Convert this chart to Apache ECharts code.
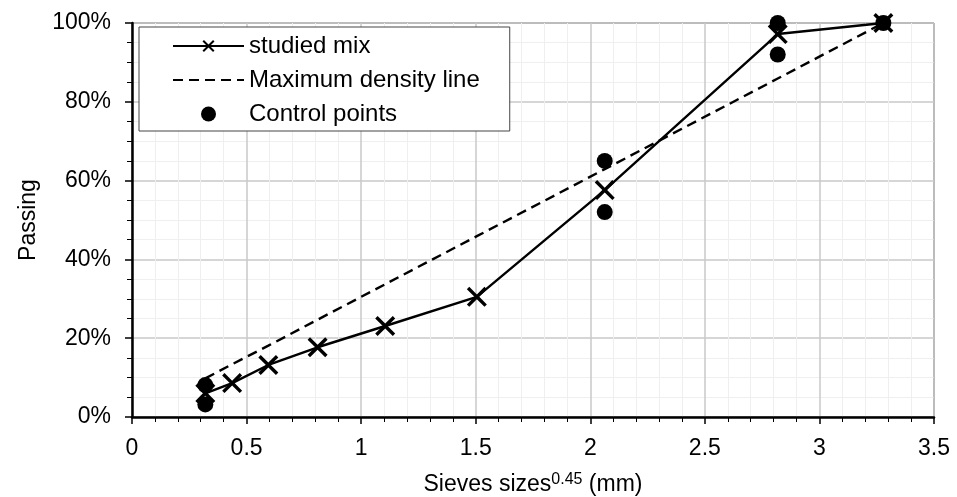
<!DOCTYPE html>
<html>
<head>
<meta charset="utf-8">
<script src="https://cdn.jsdelivr.net/npm/echarts@6/dist/echarts.min.js"></script>
<style>
  html, body { margin: 0; padding: 0; background: #fff; }
  #chart { width: 957px; height: 497px; }
</style>
</head>
<body>
<div id="chart"></div>
<script>
// sieve size^0.45 positions (mm^0.45)
const sieveX = [0.32, 0.437, 0.595, 0.81, 1.105, 1.505, 2.063, 2.818, 3.279]
// studied mix passing (%)
const mixPassing = [6, 8.6, 13.2, 17.7, 23.1, 30.5, 57.6, 97.2, 100]
// maximum density line passing (%)
const maxDensity = [9.8, 13.4, 18.1, 24.7, 33.7, 45.9, 62.9, 85.9, 100]
// control points: [x, passing %]
const controlX = [0.32, 0.32, 2.063, 2.063, 2.818, 2.818, 3.279]
const controlY = [3.2, 8.1, 52, 65, 92, 100, 100]

const xTicks = [0, 0.5, 1, 1.5, 2, 2.5, 3, 3.5]
const yTicks = [0, 20, 40, 60, 80, 100]

const font = 'Liberation Sans, Arial, sans-serif'
const crossPath = 'path://M0,1.2L1.2,0L5,3.8L8.8,0L10,1.2L6.2,5L10,8.8L8.8,10L5,6.2L1.2,10L0,8.8L3.8,5Z'

const myChart = echarts.init(document.getElementById('chart'))
myChart.setOption({
  animation: false,
  backgroundColor: '#fff',
  textStyle: { fontFamily: font, color: '#000' },
  grid: {
    left: 132,
    right: 23,
    top: 23,
    bottom: 80,
    outerBoundsMode: 'none',
    containLabel: false,
    show: true,
    borderColor: '#333',
    borderWidth: 1
  },
  legend: {
    left: 139,
    top: 27,
    orient: 'vertical',
    backgroundColor: '#fff',
    borderColor: '#444',
    borderWidth: 1,
    borderRadius: 0,
    padding: [7, 30, 5, 33],
    itemGap: 10,
    itemWidth: 71,
    itemHeight: 15,
    textStyle: { fontFamily: font, fontSize: 24, color: '#000' },
    data: [
      'studied mix',
      { name: 'Maximum density line', itemStyle: { opacity: 0 } },
      'Control points'
    ]
  },
  xAxis: {
    type: 'value',
    min: xTicks[0],
    max: xTicks[xTicks.length - 1],
    interval: 0.5,
    name: 'Sieves sizes{sup|0.45} (mm)',
    nameLocation: 'middle',
    nameGap: 55,
    nameTextStyle: {
      fontFamily: font,
      fontSize: 23,
      color: '#000',
      rich: { sup: { fontSize: 16, verticalAlign: 'top', padding: [0, 0, 10, 0], fontFamily: font } }
    },
    axisLine: { show: true, onZero: false, lineStyle: { color: '#000', width: 2.5 } },
    axisTick: { show: true, inside: false, length: 7, lineStyle: { color: '#000', width: 1.5 } },
    minorTick: { show: true, splitNumber: 5, length: 5, lineStyle: { color: '#000', width: 1 } },
    axisLabel: {
      fontSize: 23,
      color: '#000',
      margin: 20,
      formatter: v => (xTicks.includes(v) ? String(v) : '')
    },
    splitLine: { show: true, lineStyle: { color: '#c8c8c8', width: 1.5 } },
    minorSplitLine: { show: true, lineStyle: { color: '#efefef', width: 1 } }
  },
  yAxis: {
    type: 'value',
    min: yTicks[0],
    max: yTicks[yTicks.length - 1],
    interval: 20,
    name: 'Passing',
    nameLocation: 'middle',
    nameGap: 92,
    nameTextStyle: { fontFamily: font, fontSize: 23, color: '#000' },
    axisLine: { show: true, lineStyle: { color: '#000', width: 2.5 } },
    axisTick: { show: true, inside: false, length: 7, lineStyle: { color: '#000', width: 1.5 } },
    minorTick: { show: true, splitNumber: 4, length: 5, lineStyle: { color: '#000', width: 1 } },
    axisLabel: {
      fontSize: 23,
      color: '#000',
      margin: 21,
      formatter: '{value}%'
    },
    splitLine: { show: true, lineStyle: { color: '#c8c8c8', width: 1.5 } },
    minorSplitLine: { show: true, lineStyle: { color: '#efefef', width: 1 } }
  },
  series: [
    {
      name: 'Maximum density line',
      type: 'line',
      symbol: 'none',
      z: 2,
      lineStyle: { color: '#000', width: 2.4, type: [10, 6] },
      itemStyle: { color: '#000' },
      data: sieveX.map((x, i) => [x, maxDensity[i]])
    },
    {
      name: 'studied mix',
      type: 'line',
      symbol: crossPath,
      symbolSize: 20,
      showAllSymbol: true,
      z: 3,
      lineStyle: { color: '#000', width: 2.4 },
      itemStyle: { color: '#000', borderWidth: 0 },
      data: sieveX.map((x, i) => [x, mixPassing[i]])
    },
    {
      name: 'Control points',
      type: 'scatter',
      symbol: 'circle',
      symbolSize: 16,
      z: 4,
      itemStyle: { color: '#000', opacity: 1 },
      data: controlX.map((x, i) => [x, controlY[i]])
    }
  ]
})
window.onresize = function() {
  myChart.resize()
}
</script>
</body>
</html>
